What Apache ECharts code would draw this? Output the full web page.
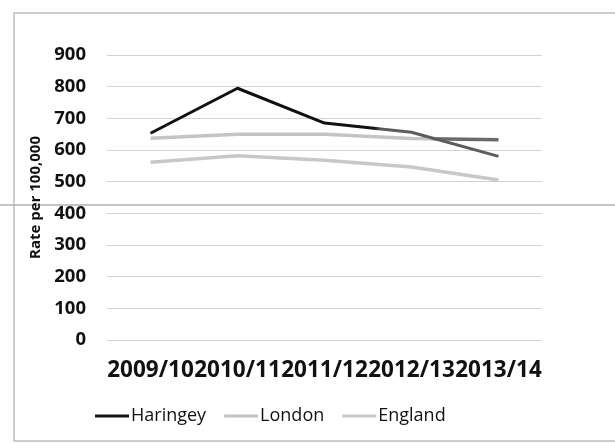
<!DOCTYPE html>
<html>
<head>
<meta charset="utf-8">
<script src="https://cdn.jsdelivr.net/npm/echarts@6/dist/echarts.min.js"></script>
<style>
  html, body { margin: 0; padding: 0; background: #fff; }
  #chart { width: 615px; height: 444px; }
</style>
</head>
<body>
<div id="chart"></div>
<script>
// 数据
var years = ['2009/10', '2010/11', '2011/12', '2012/13', '2013/14'];
var haringey = [653, 795, 685, 656, 580];
var london = [637, 650, 650, 636, 632];
var england = [561, 582, 568, 546, 505];
var yTicks = [0, 900, 100]; // min, max, interval

var chart = echarts.init(document.getElementById('chart'));

// 扫描件上线条右半段偏灰，用横向渐变模拟
function fade(c1, c2, at) {
  return new echarts.graphic.LinearGradient(0, 0, 1, 0, [
    { offset: 0, color: c1 }, { offset: at, color: c1 },
    { offset: at + 0.02, color: c2 }, { offset: 1, color: c2 }
  ]);
}

var option = {
  backgroundColor: '#fff',
  animation: false,
  grid: { left: 107, right: 73, top: 55, bottom: 104 },
  legend: {
    left: 90, top: 402,
    icon: 'rect', itemWidth: 34, itemHeight: 3, itemGap: 18,
    textStyle: { fontFamily: 'Open Sans', fontSize: 18, color: '#111', padding: [0, 0, 0, -3] },
    data: ['Haringey', 'London', 'England']
  },
  xAxis: {
    type: 'category',
    data: years,
    axisLine: { show: false },
    axisTick: { show: false },
    axisLabel: { interval: 0, margin: 19, fontFamily: 'Open Sans', fontWeight: 'bold', fontSize: 22.5, color: '#111' }
  },
  yAxis: {
    type: 'value',
    min: yTicks[0], max: yTicks[1], interval: yTicks[2],
    name: 'Rate per 100,000',
    nameLocation: 'middle', nameGap: 64,
    nameTextStyle: { fontFamily: 'Open Sans', fontWeight: 'bold', fontSize: 15, color: '#111' },
    axisLabel: { margin: 21, fontFamily: 'Open Sans', fontWeight: 'bold', fontSize: 18.5, color: '#111' },
    splitLine: { lineStyle: { color: '#d2d2d2', width: 1 } }
  },
  series: [
    {
      name: 'Haringey', type: 'line', data: haringey, symbol: 'none', z: 3,
      itemStyle: { color: '#111' },
      lineStyle: { width: 3, color: fade('#111', '#5c5c5c', 0.64) }
    },
    {
      name: 'London', type: 'line', data: london, symbol: 'none', z: 2,
      itemStyle: { color: '#c4c4c4' },
      lineStyle: { width: 3.5, color: fade('#c4c4c4', '#6a6a6a', 0.8) }
    },
    {
      name: 'England', type: 'line', data: england, symbol: 'none', z: 2,
      itemStyle: { color: '#c8c8c8' },
      lineStyle: { width: 3.5, color: '#c8c8c8' }
    }
  ],
  graphic: [
    // 外框和扫描横线
    { type: 'rect', shape: { x: 14, y: 13, width: 640, height: 428 }, style: { fill: null, stroke: '#bdbdbd', lineWidth: 1.5 }, z: -1 },
    { type: 'line', shape: { x1: 0, y1: 205, x2: 615, y2: 205 }, style: { stroke: '#b0b0b0', lineWidth: 1.5 }, z: -1 }
  ]
};
chart.setOption(option);
</script>
</body>
</html>
